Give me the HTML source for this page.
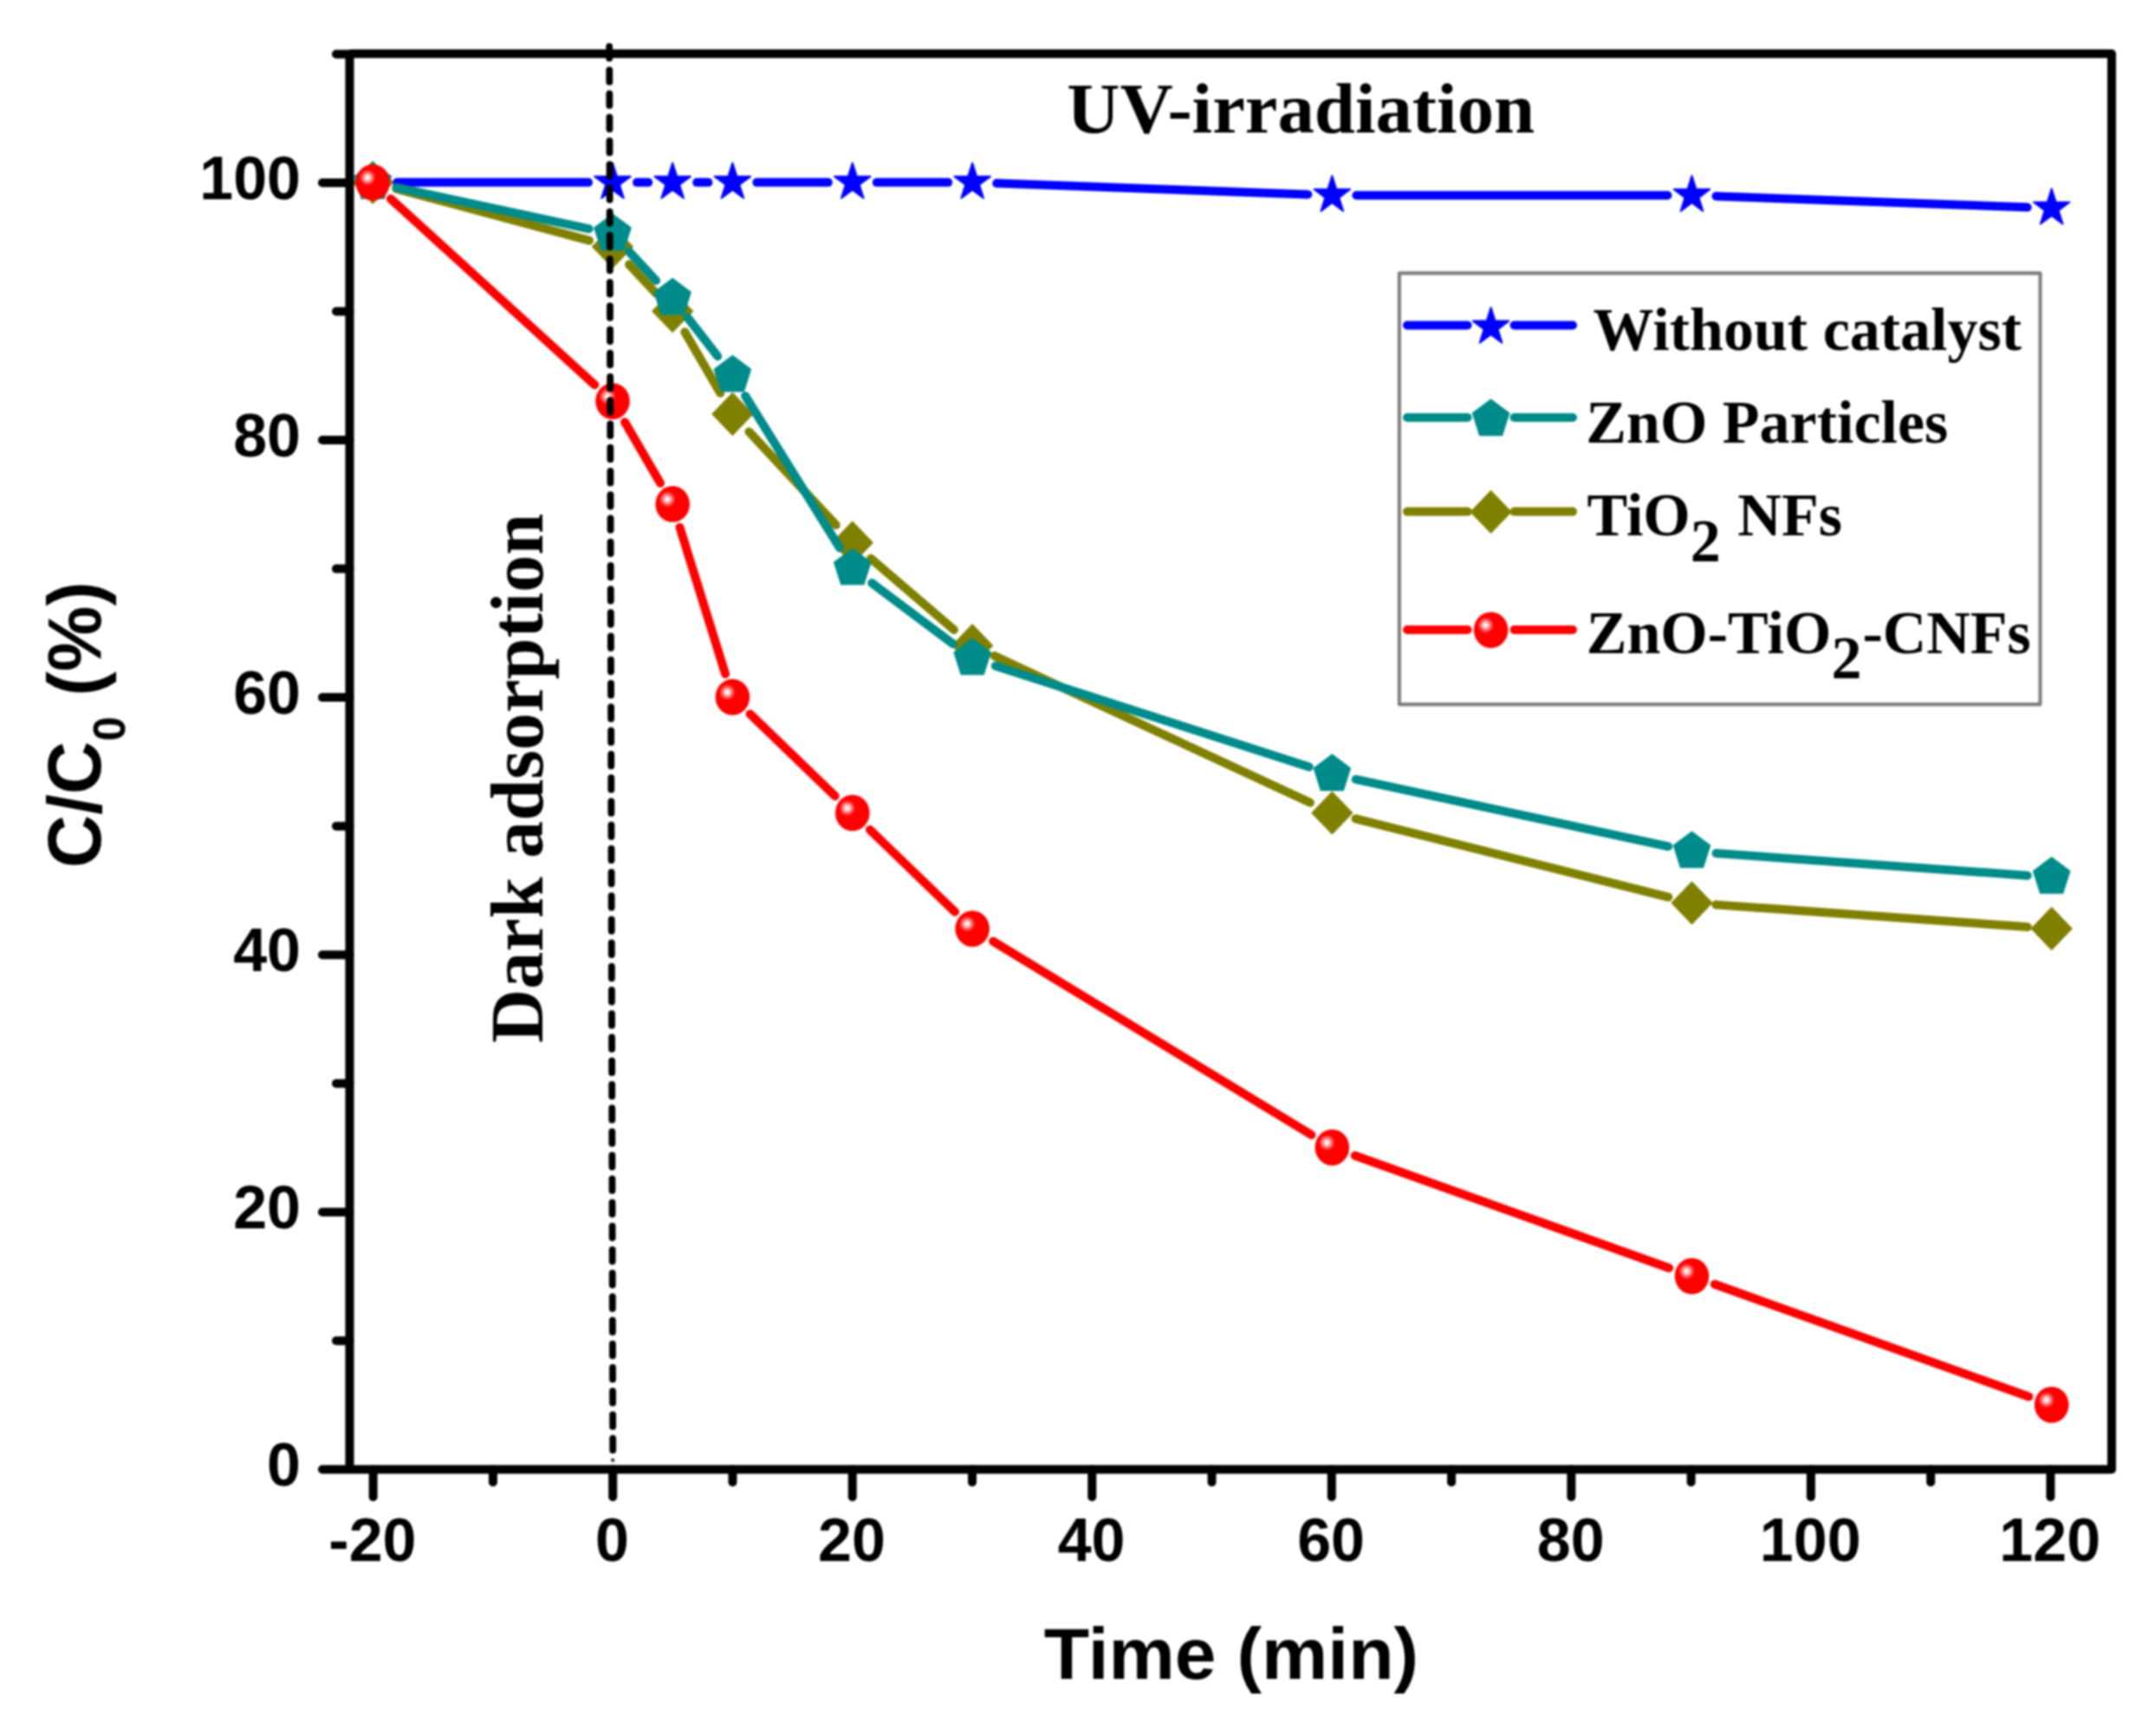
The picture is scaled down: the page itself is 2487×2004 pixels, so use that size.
<!DOCTYPE html>
<html lang="en"><head><meta charset="utf-8"><title>Photocatalytic degradation</title>
<style>html,body{margin:0;padding:0;background:#fff}body{width:2487px;height:2004px;overflow:hidden}svg{display:block;filter:blur(0.8px)}.sans{font-family:'Liberation Sans', sans-serif;font-weight:bold}.serif{font-family:'Liberation Serif', serif;font-weight:bold}</style></head><body>
<svg width="2487" height="2004" viewBox="0 0 2487 2004">
<defs><radialGradient id="ballg" cx="0.5" cy="0.5" r="0.5"><stop offset="0" stop-color="#fff"/><stop offset="0.25" stop-color="#ffe0e0"/><stop offset="0.6" stop-color="#ff6a6a"/><stop offset="1" stop-color="#ff0000"/></radialGradient></defs>
<rect width="2487" height="2004" fill="#fff"/>
<g id="s-blue"><line x1="458.22" y1="210.6" x2="679" y2="210.6" stroke="#0000ff" stroke-width="10" stroke-linecap="round"/><line x1="735" y1="210.6" x2="748.2" y2="210.6" stroke="#0000ff" stroke-width="10" stroke-linecap="round"/><line x1="804.2" y1="210.6" x2="817.39" y2="210.6" stroke="#0000ff" stroke-width="10" stroke-linecap="round"/><line x1="873.39" y1="210.6" x2="955.78" y2="210.6" stroke="#0000ff" stroke-width="10" stroke-linecap="round"/><line x1="1011.78" y1="210.6" x2="1094.17" y2="210.6" stroke="#0000ff" stroke-width="10" stroke-linecap="round"/><line x1="1150.15" y1="211.6" x2="1509.36" y2="224.45" stroke="#0000ff" stroke-width="10" stroke-linecap="round"/><line x1="1565.34" y1="225.45" x2="1924.51" y2="225.45" stroke="#0000ff" stroke-width="10" stroke-linecap="round"/><line x1="1980.49" y1="226.45" x2="2339.7" y2="239.3" stroke="#0000ff" stroke-width="10" stroke-linecap="round"/><polygon points="430.22,188.04 435.14,203.63 451.05,203.63 438.18,213.26 443.09,228.85 430.22,219.22 417.35,228.85 422.26,213.26 409.39,203.63 425.3,203.63" fill="#0000ff" stroke="#0000ff" stroke-width="1.9" stroke-linejoin="round"/><polygon points="707,188.04 711.92,203.63 727.83,203.63 714.96,213.26 719.87,228.85 707,219.22 694.13,228.85 699.04,213.26 686.17,203.63 702.08,203.63" fill="#0000ff" stroke="#0000ff" stroke-width="1.9" stroke-linejoin="round"/><polygon points="776.2,188.04 781.11,203.63 797.02,203.63 784.15,213.26 789.07,228.85 776.2,219.22 763.32,228.85 768.24,213.26 755.37,203.63 771.28,203.63" fill="#0000ff" stroke="#0000ff" stroke-width="1.9" stroke-linejoin="round"/><polygon points="845.39,188.04 850.31,203.63 866.22,203.63 853.35,213.26 858.26,228.85 845.39,219.22 832.52,228.85 837.43,213.26 824.56,203.63 840.47,203.63" fill="#0000ff" stroke="#0000ff" stroke-width="1.9" stroke-linejoin="round"/><polygon points="983.78,188.04 988.7,203.63 1004.61,203.63 991.74,213.26 996.65,228.85 983.78,219.22 970.91,228.85 975.82,213.26 962.95,203.63 978.86,203.63" fill="#0000ff" stroke="#0000ff" stroke-width="1.9" stroke-linejoin="round"/><polygon points="1122.17,188.04 1127.09,203.63 1143,203.63 1130.13,213.26 1135.04,228.85 1122.17,219.22 1109.3,228.85 1114.21,213.26 1101.34,203.63 1117.25,203.63" fill="#0000ff" stroke="#0000ff" stroke-width="1.9" stroke-linejoin="round"/><polygon points="1537.34,202.9 1542.26,218.48 1558.17,218.48 1545.3,228.12 1550.21,243.7 1537.34,234.07 1524.47,243.7 1529.38,228.12 1516.51,218.48 1532.42,218.48" fill="#0000ff" stroke="#0000ff" stroke-width="1.9" stroke-linejoin="round"/><polygon points="1952.51,202.9 1957.43,218.48 1973.34,218.48 1960.47,228.12 1965.38,243.7 1952.51,234.07 1939.64,243.7 1944.55,228.12 1931.68,218.48 1947.59,218.48" fill="#0000ff" stroke="#0000ff" stroke-width="1.9" stroke-linejoin="round"/><polygon points="2367.68,217.75 2372.6,233.33 2388.51,233.34 2375.64,242.97 2380.55,258.55 2367.68,248.92 2354.81,258.55 2359.72,242.97 2346.85,233.34 2362.76,233.33" fill="#0000ff" stroke="#0000ff" stroke-width="1.9" stroke-linejoin="round"/></g>
<g id="s-olive"><line x1="457.26" y1="217.86" x2="679.96" y2="277.61" stroke="#808000" stroke-width="10" stroke-linecap="round"/><line x1="726.09" y1="305.35" x2="757.11" y2="338.64" stroke="#808000" stroke-width="10" stroke-linecap="round"/><line x1="790.29" y1="383.33" x2="831.3" y2="453.76" stroke="#808000" stroke-width="10" stroke-linecap="round"/><line x1="864.48" y1="498.44" x2="964.69" y2="606" stroke="#808000" stroke-width="10" stroke-linecap="round"/><line x1="1005.02" y1="644.72" x2="1100.93" y2="727.07" stroke="#808000" stroke-width="10" stroke-linecap="round"/><line x1="1147.56" y1="757.12" x2="1511.95" y2="926.59" stroke="#808000" stroke-width="10" stroke-linecap="round"/><line x1="1564.5" y1="945.2" x2="1925.35" y2="1035.57" stroke="#808000" stroke-width="10" stroke-linecap="round"/><line x1="1980.44" y1="1044.37" x2="2339.75" y2="1070.08" stroke="#808000" stroke-width="10" stroke-linecap="round"/><polygon points="430.22,185.4 454.42,210.6 430.22,235.8 406.02,210.6" fill="#808000"/><polygon points="707,259.66 731.2,284.86 707,310.06 682.8,284.86" fill="#808000"/><polygon points="776.2,333.93 800.4,359.13 776.2,384.33 752,359.13" fill="#808000"/><polygon points="845.39,452.75 869.59,477.95 845.39,503.15 821.19,477.95" fill="#808000"/><polygon points="983.78,601.28 1007.98,626.48 983.78,651.68 959.58,626.48" fill="#808000"/><polygon points="1122.17,720.11 1146.37,745.31 1122.17,770.51 1097.97,745.31" fill="#808000"/><polygon points="1537.34,913.2 1561.54,938.4 1537.34,963.6 1513.14,938.4" fill="#808000"/><polygon points="1952.51,1017.17 1976.71,1042.37 1952.51,1067.57 1928.31,1042.37" fill="#808000"/><polygon points="2367.68,1046.87 2391.88,1072.07 2367.68,1097.27 2343.48,1072.07" fill="#808000"/></g>
<g id="s-teal"><line x1="457.6" y1="216.48" x2="679.62" y2="264.14" stroke="#008b8b" stroke-width="10" stroke-linecap="round"/><line x1="726.09" y1="290.5" x2="757.11" y2="323.79" stroke="#008b8b" stroke-width="10" stroke-linecap="round"/><line x1="793.37" y1="366.39" x2="828.22" y2="411.28" stroke="#008b8b" stroke-width="10" stroke-linecap="round"/><line x1="860.16" y1="457.18" x2="969.01" y2="632.41" stroke="#008b8b" stroke-width="10" stroke-linecap="round"/><line x1="1006.17" y1="673.01" x2="1099.78" y2="743.34" stroke="#008b8b" stroke-width="10" stroke-linecap="round"/><line x1="1148.82" y1="768.74" x2="1510.69" y2="885.26" stroke="#008b8b" stroke-width="10" stroke-linecap="round"/><line x1="1564.72" y1="899.71" x2="1925.13" y2="977.08" stroke="#008b8b" stroke-width="10" stroke-linecap="round"/><line x1="1980.44" y1="984.95" x2="2339.75" y2="1010.66" stroke="#008b8b" stroke-width="10" stroke-linecap="round"/><polygon points="430.22,187.94 451.14,203.6 443.15,228.93 417.29,228.93 409.3,203.6" fill="#008b8b" stroke="#008b8b" stroke-width="1.6" stroke-linejoin="round"/><polygon points="707,247.35 727.92,263.01 719.93,288.34 694.07,288.34 686.08,263.01" fill="#008b8b" stroke="#008b8b" stroke-width="1.6" stroke-linejoin="round"/><polygon points="776.2,321.62 797.12,337.27 789.13,362.61 763.26,362.61 755.27,337.27" fill="#008b8b" stroke="#008b8b" stroke-width="1.6" stroke-linejoin="round"/><polygon points="845.39,410.73 866.31,426.39 858.32,451.73 832.46,451.73 824.47,426.39" fill="#008b8b" stroke="#008b8b" stroke-width="1.6" stroke-linejoin="round"/><polygon points="983.78,633.53 1004.7,649.19 996.71,674.52 970.85,674.52 962.86,649.19" fill="#008b8b" stroke="#008b8b" stroke-width="1.6" stroke-linejoin="round"/><polygon points="1122.17,737.5 1143.09,753.16 1135.1,778.49 1109.24,778.49 1101.25,753.16" fill="#008b8b" stroke="#008b8b" stroke-width="1.6" stroke-linejoin="round"/><polygon points="1537.34,871.18 1558.26,886.84 1550.27,912.17 1524.41,912.17 1516.42,886.84" fill="#008b8b" stroke="#008b8b" stroke-width="1.6" stroke-linejoin="round"/><polygon points="1952.51,960.3 1973.43,975.95 1965.44,1001.29 1939.58,1001.29 1931.59,975.95" fill="#008b8b" stroke="#008b8b" stroke-width="1.6" stroke-linejoin="round"/><polygon points="2367.68,990 2388.6,1005.66 2380.61,1030.99 2354.75,1030.99 2346.76,1005.66" fill="#008b8b" stroke="#008b8b" stroke-width="1.6" stroke-linejoin="round"/></g>
<g id="s-red"><line x1="450.91" y1="229.47" x2="686.31" y2="444.23" stroke="#ff0000" stroke-width="10" stroke-linecap="round"/><line x1="721.09" y1="487.3" x2="762.1" y2="557.73" stroke="#ff0000" stroke-width="10" stroke-linecap="round"/><line x1="784.5" y1="608.67" x2="837.09" y2="777.98" stroke="#ff0000" stroke-width="10" stroke-linecap="round"/><line x1="865.53" y1="824.17" x2="963.64" y2="918.94" stroke="#ff0000" stroke-width="10" stroke-linecap="round"/><line x1="1003.92" y1="957.85" x2="1102.03" y2="1052.62" stroke="#ff0000" stroke-width="10" stroke-linecap="round"/><line x1="1146.09" y1="1086.62" x2="1513.42" y2="1310.03" stroke="#ff0000" stroke-width="10" stroke-linecap="round"/><line x1="1563.7" y1="1334.01" x2="1926.15" y2="1463.67" stroke="#ff0000" stroke-width="10" stroke-linecap="round"/><line x1="1978.87" y1="1482.54" x2="2341.32" y2="1612.2" stroke="#ff0000" stroke-width="10" stroke-linecap="round"/><ellipse cx="430.22" cy="210.6" rx="19.8" ry="20.9" fill="#f00"/><circle cx="424.22" cy="205" r="9.5" fill="url(#ballg)"/><ellipse cx="707" cy="463.1" rx="19.8" ry="20.9" fill="#f00"/><circle cx="701" cy="457.5" r="9.5" fill="url(#ballg)"/><ellipse cx="776.2" cy="581.92" rx="19.8" ry="20.9" fill="#f00"/><circle cx="770.2" cy="576.32" r="9.5" fill="url(#ballg)"/><ellipse cx="845.39" cy="804.72" rx="19.8" ry="20.9" fill="#f00"/><circle cx="839.39" cy="799.12" r="9.5" fill="url(#ballg)"/><ellipse cx="983.78" cy="938.4" rx="19.8" ry="20.9" fill="#f00"/><circle cx="977.78" cy="932.8" r="9.5" fill="url(#ballg)"/><ellipse cx="1122.17" cy="1072.07" rx="19.8" ry="20.9" fill="#f00"/><circle cx="1116.17" cy="1066.47" r="9.5" fill="url(#ballg)"/><ellipse cx="1537.34" cy="1324.57" rx="19.8" ry="20.9" fill="#f00"/><circle cx="1531.34" cy="1318.97" r="9.5" fill="url(#ballg)"/><ellipse cx="1952.51" cy="1473.1" rx="19.8" ry="20.9" fill="#f00"/><circle cx="1946.51" cy="1467.5" r="9.5" fill="url(#ballg)"/><ellipse cx="2367.68" cy="1621.63" rx="19.8" ry="20.9" fill="#f00"/><circle cx="2361.68" cy="1616.03" r="9.5" fill="url(#ballg)"/></g>
<g stroke="#000" stroke-width="10" fill="none" stroke-linecap="butt">
<polyline points="403.5,62 2437,62 2437,1696.3 403.5,1696.3" stroke-linejoin="round"/>
<line x1="403.5" y1="62" x2="403.5" y2="1696.3"/>
<line x1="372" y1="1696.3" x2="403.5" y2="1696.3" stroke-linecap="round"/>
<line x1="388" y1="1547.77" x2="403.5" y2="1547.77" stroke-linecap="round"/>
<line x1="372" y1="1399.24" x2="403.5" y2="1399.24" stroke-linecap="round"/>
<line x1="388" y1="1250.71" x2="403.5" y2="1250.71" stroke-linecap="round"/>
<line x1="372" y1="1102.18" x2="403.5" y2="1102.18" stroke-linecap="round"/>
<line x1="388" y1="953.65" x2="403.5" y2="953.65" stroke-linecap="round"/>
<line x1="372" y1="805.12" x2="403.5" y2="805.12" stroke-linecap="round"/>
<line x1="388" y1="656.59" x2="403.5" y2="656.59" stroke-linecap="round"/>
<line x1="372" y1="508.06" x2="403.5" y2="508.06" stroke-linecap="round"/>
<line x1="388" y1="359.53" x2="403.5" y2="359.53" stroke-linecap="round"/>
<line x1="372" y1="211" x2="403.5" y2="211" stroke-linecap="round"/>
<line x1="388" y1="62.47" x2="403.5" y2="62.47" stroke-linecap="round"/>
<line x1="430.66" y1="1696.3" x2="430.66" y2="1728" stroke-linecap="round"/>
<line x1="568.93" y1="1696.3" x2="568.93" y2="1711" stroke-linecap="round"/>
<line x1="707.2" y1="1696.3" x2="707.2" y2="1728" stroke-linecap="round"/>
<line x1="845.47" y1="1696.3" x2="845.47" y2="1711" stroke-linecap="round"/>
<line x1="983.74" y1="1696.3" x2="983.74" y2="1728" stroke-linecap="round"/>
<line x1="1122.01" y1="1696.3" x2="1122.01" y2="1711" stroke-linecap="round"/>
<line x1="1260.28" y1="1696.3" x2="1260.28" y2="1728" stroke-linecap="round"/>
<line x1="1398.55" y1="1696.3" x2="1398.55" y2="1711" stroke-linecap="round"/>
<line x1="1536.82" y1="1696.3" x2="1536.82" y2="1728" stroke-linecap="round"/>
<line x1="1675.09" y1="1696.3" x2="1675.09" y2="1711" stroke-linecap="round"/>
<line x1="1813.36" y1="1696.3" x2="1813.36" y2="1728" stroke-linecap="round"/>
<line x1="1951.63" y1="1696.3" x2="1951.63" y2="1711" stroke-linecap="round"/>
<line x1="2089.9" y1="1696.3" x2="2089.9" y2="1728" stroke-linecap="round"/>
<line x1="2228.17" y1="1696.3" x2="2228.17" y2="1711" stroke-linecap="round"/>
<line x1="2366.44" y1="1696.3" x2="2366.44" y2="1728" stroke-linecap="round"/>
</g>
<g class="sans" font-size="70" fill="#000">
<text x="347" y="1714.8" text-anchor="end">0</text>
<text x="347" y="1417.74" text-anchor="end">20</text>
<text x="347" y="1120.68" text-anchor="end">40</text>
<text x="347" y="823.62" text-anchor="end">60</text>
<text x="347" y="526.56" text-anchor="end">80</text>
<text x="347" y="229.5" text-anchor="end">100</text>
<text x="429.96" y="1802" text-anchor="middle">-20</text>
<text x="706.5" y="1802" text-anchor="middle">0</text>
<text x="983.04" y="1802" text-anchor="middle">20</text>
<text x="1259.58" y="1802" text-anchor="middle">40</text>
<text x="1536.12" y="1802" text-anchor="middle">60</text>
<text x="1812.66" y="1802" text-anchor="middle">80</text>
<text x="2089.2" y="1802" text-anchor="middle">100</text>
<text x="2365.74" y="1802" text-anchor="middle">120</text>
</g>
<text class="sans" font-size="84" transform="translate(1421 1938.3) scale(1.022 1)" text-anchor="middle">Time (min)</text>
<text class="sans" font-size="86.9" transform="translate(116.3 1002) rotate(-90) scale(0.979 1)">C/C<tspan font-size="52" dy="28">0</tspan><tspan dy="-28"> (%)</tspan></text>
<text class="serif" font-size="83.3" transform="translate(1501.2 153) scale(1.0177 1)" text-anchor="middle">UV-irradiation</text>
<text class="serif" font-size="86.3" transform="translate(626 1204) rotate(-90)">Dark adsorption</text>
<rect x="1614.9" y="315.4" width="739.6" height="497.7" fill="#fff" stroke="#7e7e7e" stroke-width="4.1" stroke-linejoin="round"/>
<line x1="1624" y1="375.5" x2="1693.6" y2="375.5" stroke="#0000ff" stroke-width="10" stroke-linecap="round"/>
<line x1="1747.6" y1="375.5" x2="1815" y2="375.5" stroke="#0000ff" stroke-width="10" stroke-linecap="round"/>
<polygon points="1720.6,354.94 1725.52,370.53 1741.43,370.53 1728.56,380.16 1733.47,395.75 1720.6,386.12 1707.73,395.75 1712.64,380.16 1699.77,370.53 1715.68,370.53" fill="#0000ff" stroke="#0000ff" stroke-width="1.9" stroke-linejoin="round"/>
<line x1="1624" y1="482" x2="1693.6" y2="482" stroke="#008b8b" stroke-width="10" stroke-linecap="round"/>
<line x1="1747.6" y1="482" x2="1815" y2="482" stroke="#008b8b" stroke-width="10" stroke-linecap="round"/>
<polygon points="1720.6,461.34 1741.52,477 1733.53,502.33 1707.67,502.33 1699.68,477" fill="#008b8b" stroke="#008b8b" stroke-width="1.6" stroke-linejoin="round"/>
<line x1="1624" y1="590.6" x2="1693.6" y2="590.6" stroke="#808000" stroke-width="10" stroke-linecap="round"/>
<line x1="1747.6" y1="590.6" x2="1815" y2="590.6" stroke="#808000" stroke-width="10" stroke-linecap="round"/>
<polygon points="1720.6,565.7 1744.8,590.9 1720.6,616.1 1696.4,590.9" fill="#808000"/>
<line x1="1624" y1="727" x2="1693.6" y2="727" stroke="#ff0000" stroke-width="10" stroke-linecap="round"/>
<line x1="1747.6" y1="727" x2="1815" y2="727" stroke="#ff0000" stroke-width="10" stroke-linecap="round"/>
<ellipse cx="1720.6" cy="727.3" rx="19.8" ry="20.9" fill="#f00"/><circle cx="1714.6" cy="721.7" r="9.5" fill="url(#ballg)"/>
<g class="serif" font-size="70" fill="#000">
<text x="1838.5" y="404">Without catalyst</text>
<text x="1830.3" y="511">ZnO Particles</text>
<text x="1831.5" y="618">TiO<tspan dy="29.5">2</tspan><tspan dy="-29.5" dx="2"> NFs</tspan></text>
<text x="1830.7" y="754.4">ZnO-TiO<tspan dy="28.5">2</tspan><tspan dy="-28.5" dx="1">-CNFs</tspan></text>
</g>
<line x1="703.2" y1="53.7" x2="707.28" y2="1686" stroke="#000" stroke-width="7.8" stroke-linecap="round" stroke-dasharray="13.5 13.732"/>
<circle cx="707.2" cy="1685.6" r="2.3" fill="#444"/>
</svg></body></html>
